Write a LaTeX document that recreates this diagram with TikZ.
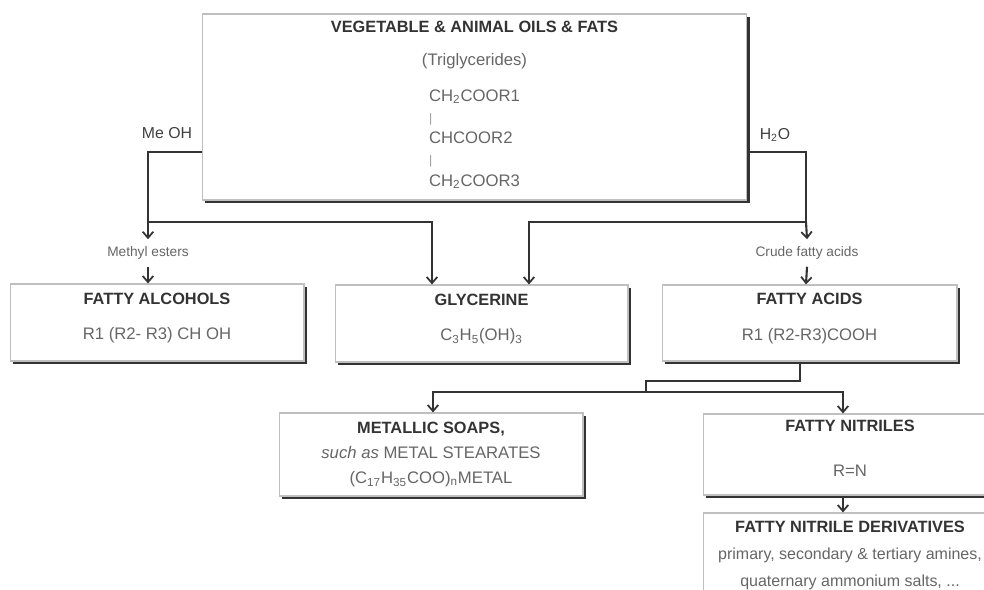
\documentclass[tikz,border=0pt]{standalone}
\usepackage{fontspec}
\setmainfont{Liberation Sans}
\usetikzlibrary{arrows.meta}
\usetikzlibrary{shadows}
\usetikzlibrary{calc}

\newcommand{\hd}[1]{{\color{black!80}\bfseries\fontsize{9.3}{10}\selectfont #1}}
\newcommand{\tick}{{\color{black!40}\scriptsize |}}
% empty last line, lifts the text a little inside its box
\newcommand{\lift}{\\[-4pt]\mbox{}}

\begin{document}
\begin{tikzpicture}[x=0.02cm, y=-0.02cm]
        % ================= styles =================
        \tikzset{
            % box with dark shadow on right and bottom
            pbox/.style={rectangle, draw=black!25, line width=0.6pt, fill=white, align=center, inner sep=0pt,
                font=\fontsize{9.5}{11}\selectfont, text=black!60,
                drop shadow={shadow xshift=1.8pt, shadow yshift=-1.8pt, fill=black!80, opacity=1}},
            % reagent labels
            reagent/.style={font=\fontsize{9}{11}\selectfont, text=black!75},
            % small labels on the arrows
            inter/.style={font=\fontsize{7.8}{9}\selectfont, text=black!60, inner xsep=1pt, inner ysep=4pt},
            flow/.style={line width=1.2pt, draw=black!80},
            arr/.style={flow, -{Straight Barb[length=3.5pt, width=6pt, line width=1pt]}}
        }
        \useasboundingbox (0,0) rectangle (984,590);
        \clip (0,0) rectangle (984,590);

        % ================= boxes =================
        \node[pbox, minimum width=10.9cm, minimum height=3.72cm] (oils) at (474.5,107)
            {\hd{VEGETABLE \& ANIMAL OILS \& FATS}\\[7.7pt]
             (Triglycerides)\\[8.8pt]
             {\renewcommand{\arraystretch}{1.1}%
              \begin{tabular}{@{}l@{}}
              CH\textsubscript{2}COOR1\\ \tick\\ CHCOOR2\\ \tick\\ CH\textsubscript{2}COOR3
              \end{tabular}}};

        \node[pbox, minimum width=5.88cm, minimum height=1.54cm] (alcohols) at (157,322.5)
            {\hd{FATTY ALCOHOLS}\\[9pt] R1 (R2- R3) CH OH\lift};
        \node[pbox, minimum width=5.86cm, minimum height=1.54cm] (glycerine) at (481.5,323.5)
            {\hd{GLYCERINE}\\[9pt] C\textsubscript{3}H\textsubscript{5}(OH)\textsubscript{3}\lift};
        \node[pbox, minimum width=5.9cm, minimum height=1.52cm] (acids) at (809.5,323)
            {\hd{FATTY ACIDS}\\[9pt] R1 (R2-R3)COOH\lift};

        \node[pbox, minimum width=6.08cm, minimum height=1.66cm] (soaps) at (431,454.5)
            {\hd{METALLIC SOAPS,}\\[3.5pt]
             \textit{such as} METAL STEARATES\\[3pt]
             (C\textsubscript{17}H\textsubscript{35}COO)\textsubscript{n}METAL};
        \node[pbox, minimum width=5.88cm, minimum height=1.62cm] (nitriles) at (850,454.5)
            {\hd{FATTY NITRILES}\\[14.5pt] R=N\lift};
        \node[pbox, minimum width=5.88cm, minimum height=1.7cm, font=\fontsize{9.1}{11}\selectfont] (derivatives) at (850,555.5)
            {\hd{FATTY NITRILE DERIVATIVES}\\[4.3pt]
             primary, secondary \& tertiary amines,\\[4.3pt]
             quaternary ammonium salts, ...};

        % ================= labels =================
        \node[reagent] (meoh) at (167,133) {Me OH};
        \node[reagent] (water) at (775,135) {H\textsubscript{2}O};
        \node[inter] (methyl) at (148,253) {Methyl esters};
        \node[inter] (crude) at (807,253) {Crude fatty acids};

        % ================= bend points =================
        \coordinate (mL) at (148,152);
        \coordinate (mJ) at (148,222);
        \coordinate (gA) at (432,222);
        \coordinate (hR) at (806,152);
        \coordinate (hJ) at (806,222);
        \coordinate (gB) at (529,222);
        \coordinate (aB) at (800,381);
        \coordinate (aS) at (646,381);
        \coordinate (aJ) at (646,392);
        \coordinate (sJ) at (433,392);
        \coordinate (nJ) at (843,392);

        % ================= connectors =================
        % MeOH side
        \draw[flow] (oils.west |- mL) -- (mL) -- (mJ);
        \draw[arr] (mJ) -- (methyl.north);
        \draw[arr] (methyl.south) -- (alcohols.north -| mJ);
        \draw[arr] (mJ) -- (gA) -- (glycerine.north -| gA);

        % H2O side
        \draw[flow] (oils.east |- hR) -- (hR) -- (hJ);
        \draw[arr] (hJ) -- (crude.north);
        \draw[arr] (crude.south) -- (acids.north -| hJ);
        \draw[arr] (hJ) -- (gB) -- (glycerine.north -| gB);

        % from the fatty acids
        \draw[flow] (acids.south -| aB) -- (aB) -- (aS) -- (aJ);
        \draw[arr] (aJ) -- (sJ) -- (soaps.north -| sJ);
        \draw[arr] (aJ) -- (nJ) -- (nitriles.north -| nJ);
        \draw[arr] (nitriles.south -| nJ) -- (derivatives.north -| nJ);

\end{tikzpicture}
\end{document}
